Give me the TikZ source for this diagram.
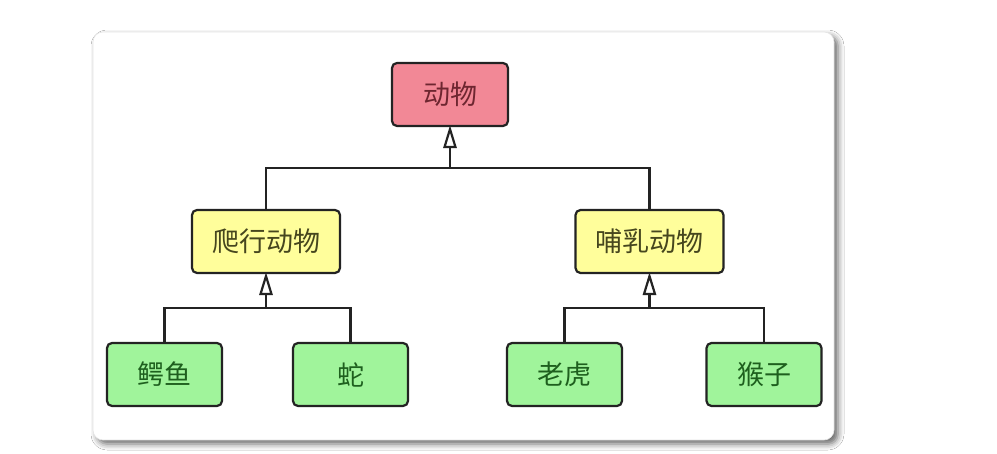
\documentclass[tikz,border=0pt]{standalone}
\usepackage{fontspec}
\newfontfamily\cjk{Noto Sans CJK SC}
\usetikzlibrary{shadows.blur}
\definecolor{redfill}{RGB}{242,136,150}
\definecolor{redtext}{RGB}{110,38,48}
\definecolor{yelfill}{RGB}{255,254,155}
\definecolor{yeltext}{RGB}{70,70,30}
\definecolor{grnfill}{RGB}{160,244,155}
\definecolor{grntext}{RGB}{30,95,30}
\definecolor{edge}{RGB}{35,35,35}
\tikzset{
  box/.style={draw=edge, line width=2.2pt, rounded corners=5pt, minimum height=63pt, inner sep=0pt,
    font=\cjk\fontsize{27}{30}\selectfont},
  redbox/.style={box, fill=redfill, text=redtext, minimum width=116pt},
  yelbox/.style={box, fill=yelfill, text=yeltext, minimum width=148pt},
  grnbox/.style={box, fill=grnfill, text=grntext, minimum width=115pt},
  link/.style={draw=edge, line width=2.2pt},
  openhead/.style={draw=edge, line width=2.2pt, fill=white, line join=miter},
}
\begin{document}
\begin{tikzpicture}[x=1pt,y=-1pt]
\useasboundingbox (0,0) rectangle (997,454);
\fill[white] (0,0) rectangle (997,454);
\path[fill=white, draw=black!10, line width=0.6pt, rounded corners=10pt,
  blur shadow={shadow xshift=4pt, shadow yshift=-4pt, shadow blur radius=6pt, shadow opacity=60}]
  (93,32) rectangle (834,440);
\node[redbox] (animal) at (450,94.5) {动物};
\node[yelbox] (rept) at (266,241.5) {爬行动物};
\node[yelbox] (mamm) at (649.5,241.5) {哺乳动物};
\node[grnbox] (croc) at (164.5,374.5) {鳄鱼};
\node[grnbox] (snake) at (350.5,374.5) {蛇};
\node[grnbox] (tiger) at (564.5,374.5) {老虎};
\node[grnbox] (monkey) at (764,374.5) {猴子};
\coordinate (j0) at (450,168);
\coordinate (j1) at (266,308);
\coordinate (j2) at (649.5,308);
\draw[link] (rept.north) |- (j0) -| (mamm.north);
\draw[link] (croc.north) |- (j1) -| (snake.north);
\draw[link] (tiger.north) |- (j2) -| (monkey.north);
\foreach \j/\n in {j0/animal, j1/rept, j2/mamm}{
  \draw[link] (\j) -- ([yshift=-20pt]\n.south);
  \draw[openhead] ([yshift=-2pt]\n.south) -- ++(-5.5,18) -- ++(11,0) -- cycle;
}
\end{tikzpicture}
\end{document}
